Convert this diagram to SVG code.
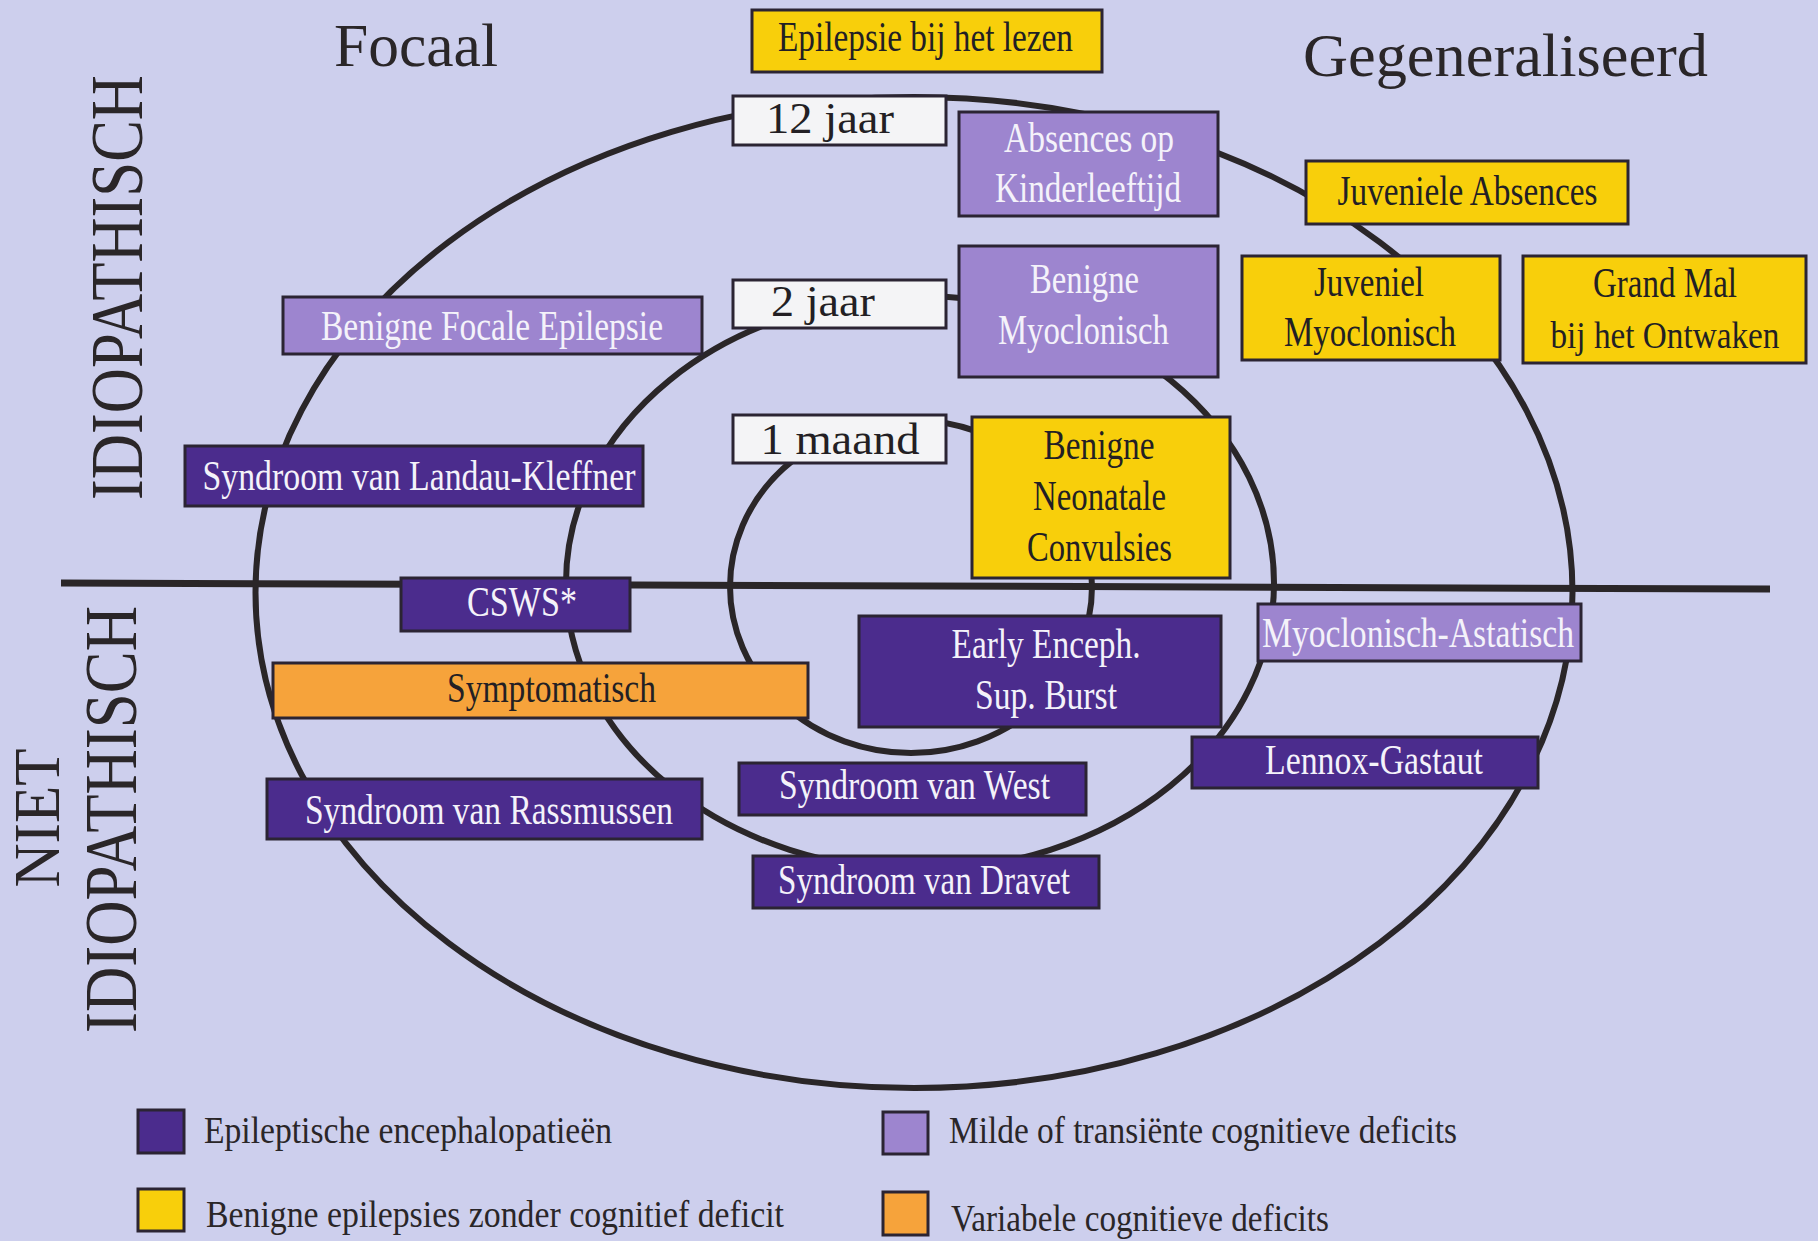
<svg xmlns="http://www.w3.org/2000/svg" width="1818" height="1241" viewBox="0 0 1818 1241">
<style>
text{font-family:"Liberation Serif","Times New Roman",serif;}
.box{stroke:#2b2433;stroke-width:3;}
.dp{fill:#4b2c8d;}
.lp{fill:#9d85cf;}
.ye{fill:#f8cf0b;}
.or{fill:#f6a33b;}
.wh{fill:#f4f4f6;}
.tl{font-size:42px;fill:#f4f2fa;text-anchor:middle;}
.td{font-size:42px;fill:#231f24;text-anchor:middle;}
.tw{font-size:45px;fill:#231f24;text-anchor:middle;}
.ring{fill:none;stroke:#2a2628;stroke-width:6;}
.title{font-size:62px;fill:#2a2628;}
.side{font-size:74px;fill:#2a2628;text-anchor:middle;}
.leg{font-size:37px;fill:#2a2628;}
</style>
<rect x="0" y="0" width="1818" height="1241" fill="#cdcfed"/>
<g id="connectors">
<ellipse class="ring" cx="914" cy="592.5" rx="658.5" ry="495.5"/>
<ellipse class="ring" cx="920" cy="583" rx="354" ry="287"/>
<ellipse class="ring" cx="911" cy="586.5" rx="181" ry="166.5"/>
<line x1="61" y1="583" x2="1770" y2="589" stroke="#2a2628" stroke-width="7"/>
</g>
<g id="titles">
<text class="title" x="334" y="66" textLength="164" lengthAdjust="spacingAndGlyphs">Focaal</text>
<text class="title" x="1303" y="76" textLength="405" lengthAdjust="spacingAndGlyphs">Gegeneraliseerd</text>
<text class="side" transform="translate(142,287.5) rotate(-90)" textLength="425" lengthAdjust="spacingAndGlyphs">IDIOPATHISCH</text>
<text class="side" style="font-size:66px" transform="translate(59,818) rotate(-90)" textLength="139" lengthAdjust="spacingAndGlyphs">NIET</text>
<text class="side" transform="translate(136,819.5) rotate(-90)" textLength="427" lengthAdjust="spacingAndGlyphs">IDIOPATHISCH</text>
</g>
<g id="n-lezen"><rect class="box ye" x="752" y="10" width="350" height="62"/><text class="td" x="925.5" y="51" textLength="295" lengthAdjust="spacingAndGlyphs">Epilepsie bij het lezen</text></g>
<g id="n-12jaar"><rect class="box wh" x="733" y="96" width="213" height="49"/><text class="tw" x="830" y="133" textLength="128" lengthAdjust="spacingAndGlyphs">12 jaar</text></g>
<g id="n-absences"><rect class="box lp" x="959" y="112" width="259" height="104"/><text class="tl" x="1089" y="152" textLength="170" lengthAdjust="spacingAndGlyphs">Absences op</text><text class="tl" x="1088" y="202" textLength="186" lengthAdjust="spacingAndGlyphs">Kinderleeftijd</text></g>
<g id="n-juvabs"><rect class="box ye" x="1306" y="161" width="322" height="63"/><text class="td" x="1467.5" y="205" textLength="260" lengthAdjust="spacingAndGlyphs">Juveniele Absences</text></g>
<g id="n-juvmyo"><rect class="box ye" x="1242" y="256" width="258" height="104"/><text class="td" x="1369" y="296" textLength="110" lengthAdjust="spacingAndGlyphs">Juveniel</text><text class="td" x="1370" y="346" textLength="172" lengthAdjust="spacingAndGlyphs">Myoclonisch</text></g>
<g id="n-grandmal"><rect class="box ye" x="1523" y="256" width="283" height="107"/><text class="td" x="1665" y="297" textLength="144" lengthAdjust="spacingAndGlyphs">Grand Mal</text><text class="td" style="font-size:38px" x="1665" y="348" textLength="229" lengthAdjust="spacingAndGlyphs">bij het Ontwaken</text></g>
<g id="n-bfe"><rect class="box lp" x="283" y="297" width="419" height="57"/><text class="tl" x="492" y="340" textLength="342" lengthAdjust="spacingAndGlyphs">Benigne Focale Epilepsie</text></g>
<g id="n-2jaar"><rect class="box wh" x="733" y="280" width="213" height="48"/><text class="tw" x="823" y="316" textLength="104" lengthAdjust="spacingAndGlyphs">2 jaar</text></g>
<g id="n-benmyo"><rect class="box lp" x="959" y="246" width="259" height="131"/><text class="tl" x="1084.5" y="293" textLength="109" lengthAdjust="spacingAndGlyphs">Benigne</text><text class="tl" x="1083.5" y="344" textLength="171" lengthAdjust="spacingAndGlyphs">Myoclonisch</text></g>
<g id="n-1maand"><rect class="box wh" x="733" y="415" width="213" height="48"/><text class="tw" x="840" y="454" textLength="159" lengthAdjust="spacingAndGlyphs">1 maand</text></g>
<g id="n-neonatale"><rect class="box ye" x="972" y="417" width="258" height="161"/><text class="td" x="1099" y="459" textLength="111" lengthAdjust="spacingAndGlyphs">Benigne</text><text class="td" x="1099.5" y="510" textLength="133" lengthAdjust="spacingAndGlyphs">Neonatale</text><text class="td" x="1099.5" y="561" textLength="145" lengthAdjust="spacingAndGlyphs">Convulsies</text></g>
<g id="n-landau"><rect class="box dp" x="185" y="446" width="458" height="60"/><text class="tl" x="419" y="490" textLength="433" lengthAdjust="spacingAndGlyphs">Syndroom van Landau-Kleffner</text></g>
<g id="n-csws"><rect class="box dp" x="401" y="578" width="229" height="53"/><text class="tl" x="522" y="616" textLength="110" lengthAdjust="spacingAndGlyphs">CSWS*</text></g>
<g id="n-early"><rect class="box dp" x="859" y="616" width="362" height="111"/><text class="tl" x="1046" y="658" textLength="189" lengthAdjust="spacingAndGlyphs">Early Enceph.</text><text class="tl" x="1046" y="709" textLength="142" lengthAdjust="spacingAndGlyphs">Sup. Burst</text></g>
<g id="n-myoast"><rect class="box lp" x="1258" y="604" width="323" height="57"/><text class="tl" x="1418" y="647" textLength="312" lengthAdjust="spacingAndGlyphs">Myoclonisch-Astatisch</text></g>
<g id="n-sympt"><rect class="box or" x="273" y="663" width="535" height="55"/><text class="td" x="551.5" y="702" textLength="209" lengthAdjust="spacingAndGlyphs">Symptomatisch</text></g>
<g id="n-lennox"><rect class="box dp" x="1192" y="737" width="346" height="51"/><text class="tl" x="1374" y="774" textLength="218" lengthAdjust="spacingAndGlyphs">Lennox-Gastaut</text></g>
<g id="n-west"><rect class="box dp" x="739" y="763" width="347" height="52"/><text class="tl" x="914.5" y="799" textLength="271" lengthAdjust="spacingAndGlyphs">Syndroom van West</text></g>
<g id="n-rass"><rect class="box dp" x="267" y="779" width="435" height="60"/><text class="tl" x="489" y="824" textLength="368" lengthAdjust="spacingAndGlyphs">Syndroom van Rassmussen</text></g>
<g id="n-dravet"><rect class="box dp" x="753" y="856" width="346" height="52"/><text class="tl" x="924" y="894" textLength="292" lengthAdjust="spacingAndGlyphs">Syndroom van Dravet</text></g>
<g id="legend">
<rect class="box dp" x="138" y="1110" width="46" height="43"/>
<text class="leg" x="204" y="1143" textLength="408" lengthAdjust="spacingAndGlyphs">Epileptische encephalopatieën</text>
<rect class="box ye" x="138" y="1189" width="46" height="42"/>
<text class="leg" x="206" y="1227" textLength="578" lengthAdjust="spacingAndGlyphs">Benigne epilepsies zonder cognitief deficit</text>
<rect class="box lp" x="883" y="1112" width="45" height="42"/>
<text class="leg" x="949" y="1143" textLength="508" lengthAdjust="spacingAndGlyphs">Milde of transiënte cognitieve deficits</text>
<rect class="box or" x="883" y="1192" width="45" height="43"/>
<text class="leg" x="951" y="1231" textLength="378" lengthAdjust="spacingAndGlyphs">Variabele cognitieve deficits</text>
</g>
</svg>
